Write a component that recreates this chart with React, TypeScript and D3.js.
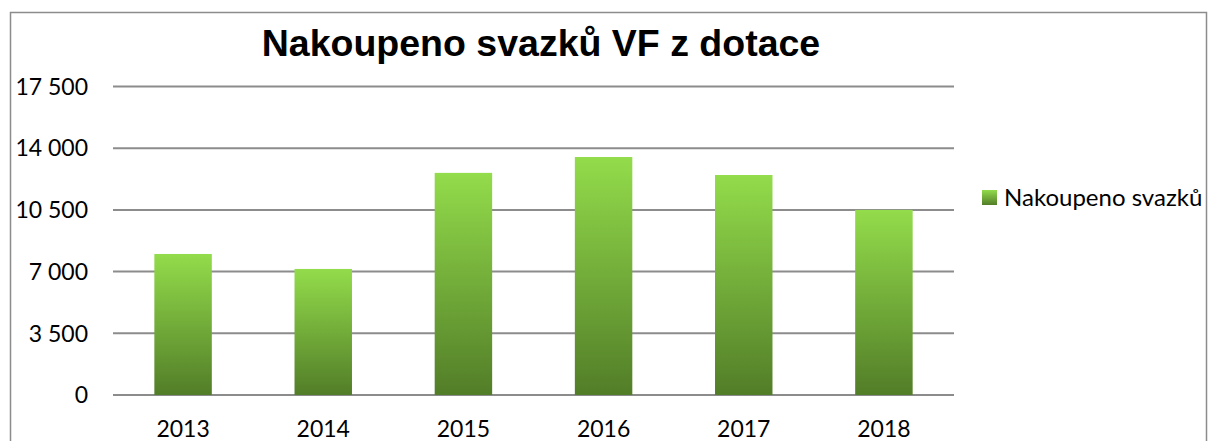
import React from "react";
import * as d3 from "d3";

const years = ["2013", "2014", "2015", "2016", "2017", "2018"];
const values = [8000, 7150, 12600, 13500, 12480, 10500];
const yTicks = [0, 3500, 7000, 10500, 14000, 17500];
const title = "Nakoupeno svazků VF z dotace";
const seriesName = "Nakoupeno svazků";

export default function App() {
  const W = 1209, H = 441;
  const left = 113, right = 954, top = 86.5, bottom = 395;
  const x = d3.scaleBand().domain(years).range([left, right]).paddingInner(0.59).paddingOuter(0.295);
  const y = d3.scaleLinear().domain([0, 17500]).range([bottom, top]);
  const fmt = (v: number) => d3.format(",")(v).replace(/,/g, " ");
  const font = "Lato, 'Open Sans', sans-serif";
  return (
    <svg width={W} height={H} style={{ position: "absolute", left: 0, top: 0 }}>
      <defs>
        <linearGradient id="g" x1="0" y1="0" x2="0" y2="1">
          <stop offset="0" stopColor="#93DC4B" />
          <stop offset="1" stopColor="#527D28" />
        </linearGradient>
      </defs>
      <rect x={0} y={0} width={W} height={H} fill="#fff" />
      <rect x={10.5} y={12.5} width={1196} height={440} fill="#fff" stroke="#8c8c8c" strokeWidth={1.5} />
      <text x={541} y={56} textAnchor="middle" fontFamily="'Liberation Sans', Arial, sans-serif" fontWeight="bold" fontSize={37.5} fill="#000">{title}</text>
      {yTicks.map((t) => (
        <g key={t}>
          <line x1={left} x2={right} y1={y(t)} y2={y(t)} stroke="#8c8c8c" strokeWidth={2} />
          <text x={88} y={y(t)} dy="0.36em" textAnchor="end" fontFamily={font} fontSize={23} fill="#000">{fmt(t)}</text>
        </g>
      ))}
      {values.map((v, i) => (
        <rect key={years[i]} x={x(years[i])} y={y(v)} width={x.bandwidth()} height={bottom - y(v)} fill="url(#g)" />
      ))}
      {years.map((yr) => (
        <text key={yr} x={(x(yr) as number) + x.bandwidth() / 2} y={437} textAnchor="middle" fontFamily={font} fontSize={23} fill="#000">{yr}</text>
      ))}
      <rect x={982} y={190} width={15} height={15} fill="url(#g)" />
      <text x={1004} y={206} fontFamily={font} fontSize={24} fill="#000">{seriesName}</text>
    </svg>
  );
}
